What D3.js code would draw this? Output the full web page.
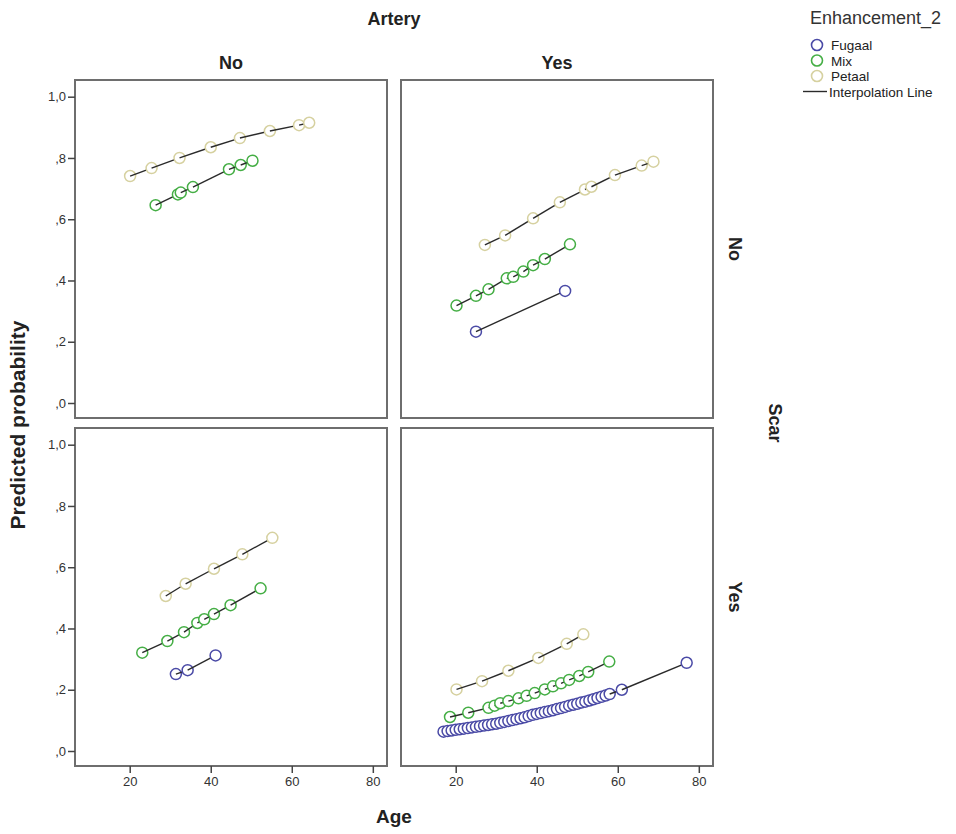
<!DOCTYPE html>
<html>
<head>
<meta charset="utf-8">
<script src="https://cdn.jsdelivr.net/npm/d3@7"></script>
<style>
  html, body { margin: 0; padding: 0; background: #fff; }
  svg { display: block; font-family: "Liberation Sans", Arial, sans-serif; }
</style>
</head>
<body>
<svg id="chart" width="956" height="834"></svg>
<script>
// ---------------- data ----------------
const arteryLevels = ["No", "Yes"];
const scarLevels = ["No", "Yes"];
const groups = ["Fugaal", "Mix", "Petaal"];
const groupColors = ["#4a4aa6", "#45ae45", "#d6d1a0"];
const ageTicks = [20, 40, 60, 80];
const probTicks = [0, 0.2, 0.4, 0.6, 0.8, 1.0];
const probTickLabels = [",0", ",2", ",4", ",6", ",8", "1,0"];

// Artery = No, Scar = No
const aNo_sNo_Mix_age = [26.4, 31.9, 32.6, 35.6, 44.5, 47.4, 50.3];
const aNo_sNo_Mix_p = [0.646, 0.681, 0.687, 0.705, 0.763, 0.777, 0.791];
const aNo_sNo_Petaal_age = [20.1, 25.4, 32.3, 40.0, 47.2, 54.6, 61.8, 64.3];
const aNo_sNo_Petaal_p = [0.741, 0.767, 0.800, 0.835, 0.865, 0.888, 0.907, 0.915];

// Artery = Yes, Scar = No
const aYes_sNo_Fugaal_age = [25.0, 47.0];
const aYes_sNo_Fugaal_p = [0.233, 0.366];
const aYes_sNo_Mix_age = [20.2, 25.0, 28.1, 32.6, 34.2, 36.7, 39.1, 42.0, 48.2];
const aYes_sNo_Mix_p = [0.318, 0.350, 0.371, 0.407, 0.412, 0.429, 0.450, 0.470, 0.518];
const aYes_sNo_Petaal_age = [27.2, 32.2, 39.1, 45.7, 51.9, 53.5, 59.3, 65.9, 68.8];
const aYes_sNo_Petaal_p = [0.516, 0.547, 0.603, 0.655, 0.697, 0.706, 0.744, 0.775, 0.788];

// Artery = No, Scar = Yes
const aNo_sYes_Fugaal_age = [31.4, 34.3, 41.2];
const aNo_sYes_Fugaal_p = [0.251, 0.264, 0.312];
const aNo_sYes_Mix_age = [23.1, 29.3, 33.4, 36.7, 38.4, 40.8, 44.9, 52.3];
const aNo_sYes_Mix_p = [0.321, 0.359, 0.388, 0.418, 0.430, 0.447, 0.476, 0.531];
const aNo_sYes_Petaal_age = [28.9, 33.8, 40.8, 47.8, 55.2];
const aNo_sYes_Petaal_p = [0.506, 0.546, 0.595, 0.642, 0.696];

// Artery = Yes, Scar = Yes
const aYes_sYes_Fugaal_age = [17, 18, 19, 20, 21, 22, 23, 24, 25, 26, 27, 28, 29, 30, 31, 32, 33, 34, 35, 36, 37, 38, 39, 40, 41, 42, 43, 44, 45, 46, 47, 48, 49, 50, 51, 52, 53, 54, 55, 56, 57, 58, 61, 77];
const aYes_sYes_Fugaal_p = [0.063, 0.065, 0.067, 0.069, 0.071, 0.073, 0.075, 0.077, 0.079, 0.081, 0.083, 0.085, 0.087, 0.089, 0.092, 0.095, 0.098, 0.101, 0.104, 0.107, 0.110, 0.114, 0.118, 0.121, 0.124, 0.127, 0.130, 0.133, 0.137, 0.140, 0.144, 0.148, 0.151, 0.154, 0.158, 0.161, 0.165, 0.169, 0.173, 0.177, 0.181, 0.186, 0.200, 0.288];
const aYes_sYes_Mix_age = [18.6, 23.1, 28.1, 29.6, 31.0, 33.0, 35.5, 37.5, 39.5, 42.0, 44.0, 46.0, 48.0, 50.5, 52.7, 57.9];
const aYes_sYes_Mix_p = [0.111, 0.125, 0.141, 0.148, 0.156, 0.163, 0.172, 0.180, 0.189, 0.201, 0.211, 0.221, 0.232, 0.245, 0.258, 0.292];
const aYes_sYes_Petaal_age = [20.2, 26.5, 33.0, 40.4, 47.4, 51.5];
const aYes_sYes_Petaal_p = [0.201, 0.228, 0.262, 0.304, 0.350, 0.381];

const seriesList = [
  { artery: "No", scar: "No", group: "Mix", ages: aNo_sNo_Mix_age, p: aNo_sNo_Mix_p },
  { artery: "No", scar: "No", group: "Petaal", ages: aNo_sNo_Petaal_age, p: aNo_sNo_Petaal_p },
  { artery: "Yes", scar: "No", group: "Fugaal", ages: aYes_sNo_Fugaal_age, p: aYes_sNo_Fugaal_p },
  { artery: "Yes", scar: "No", group: "Mix", ages: aYes_sNo_Mix_age, p: aYes_sNo_Mix_p },
  { artery: "Yes", scar: "No", group: "Petaal", ages: aYes_sNo_Petaal_age, p: aYes_sNo_Petaal_p },
  { artery: "No", scar: "Yes", group: "Fugaal", ages: aNo_sYes_Fugaal_age, p: aNo_sYes_Fugaal_p },
  { artery: "No", scar: "Yes", group: "Mix", ages: aNo_sYes_Mix_age, p: aNo_sYes_Mix_p },
  { artery: "No", scar: "Yes", group: "Petaal", ages: aNo_sYes_Petaal_age, p: aNo_sYes_Petaal_p },
  { artery: "Yes", scar: "Yes", group: "Fugaal", ages: aYes_sYes_Fugaal_age, p: aYes_sYes_Fugaal_p },
  { artery: "Yes", scar: "Yes", group: "Mix", ages: aYes_sYes_Mix_age, p: aYes_sYes_Mix_p },
  { artery: "Yes", scar: "Yes", group: "Petaal", ages: aYes_sYes_Petaal_age, p: aYes_sYes_Petaal_p }
];

// ---------------- layout ----------------
const svg = d3.select("#chart");
const panelX = { No: 75, Yes: 401 };
const panelY = { No: 80, Yes: 428 };
const PW = 312, PH = 338;

const color = d3.scaleOrdinal().domain(groups).range(groupColors);
const x = d3.scaleLinear().domain([6.5, 83.5]).range([0, PW]);
const y = d3.scaleLinear().domain([0, 1]).range([323, 16.7]);

const textColor = "#222";
const tickColor = "#444";
const R = 5.5;

// titles
svg.append("text").attr("x", 394).attr("y", 25).attr("text-anchor", "middle")
  .attr("font-weight", "bold").attr("font-size", 18).attr("fill", textColor).text("Artery");
arteryLevels.forEach(a => {
  svg.append("text").attr("x", panelX[a] + PW / 2).attr("y", 69).attr("text-anchor", "middle")
    .attr("font-weight", "bold").attr("font-size", 18).attr("fill", textColor).text(a);
});
scarLevels.forEach(s => {
  const cy = panelY[s] + PH / 2;
  svg.append("text").attr("transform", `translate(729,${cy}) rotate(90)`).attr("text-anchor", "middle")
    .attr("font-weight", "bold").attr("font-size", 18).attr("fill", textColor).text(s);
});
svg.append("text").attr("transform", `translate(769,423) rotate(90)`).attr("text-anchor", "middle")
  .attr("font-weight", "bold").attr("font-size", 18).attr("fill", textColor).text("Scar");
svg.append("text").attr("transform", `translate(25,425) rotate(-90)`).attr("text-anchor", "middle")
  .attr("font-weight", "bold").attr("font-size", 21).attr("fill", textColor).text("Predicted probability");
svg.append("text").attr("x", 394).attr("y", 823).attr("text-anchor", "middle")
  .attr("font-weight", "bold").attr("font-size", 19).attr("fill", textColor).text("Age");

// panels
arteryLevels.forEach(a => {
  scarLevels.forEach(s => {
    const g = svg.append("g").attr("transform", `translate(${panelX[a]},${panelY[s]})`);
    g.append("rect").attr("x", 0).attr("y", 0).attr("width", PW).attr("height", PH)
      .attr("fill", "#fff").attr("stroke", "#6e6e6e").attr("stroke-width", 2);

    if (a === "No") {
      const ya = g.append("g").call(d3.axisLeft(y).tickValues(probTicks)
        .tickFormat((d, i) => probTickLabels[i]).tickSize(7).tickPadding(2));
      ya.select(".domain").remove();
      ya.selectAll("line").attr("stroke", tickColor).attr("stroke-width", 1.5);
      ya.selectAll("text").attr("font-size", 13).attr("fill", "#333")
        .attr("font-family", "'Liberation Sans', Arial, sans-serif");
    }
    if (s === "Yes") {
      const xa = g.append("g").attr("transform", `translate(0,${PH})`)
        .call(d3.axisBottom(x).tickValues(ageTicks).tickSize(7).tickPadding(4));
      xa.select(".domain").remove();
      xa.selectAll("line").attr("stroke", tickColor).attr("stroke-width", 1.5);
      xa.selectAll("text").attr("font-size", 13).attr("fill", "#333")
        .attr("font-family", "'Liberation Sans', Arial, sans-serif");
    }

    // markers and interpolation segments, interleaved (segment starts at a marker's centre
    // and runs under the next marker)
    const panelSeries = seriesList.filter(d => d.artery === a && d.scar === s);
    panelSeries.forEach(ser => {
      const pts = ser.ages.map((ag, i) => [ag, ser.p[i]]);
      const sg = g.append("g");
      pts.forEach((d, i) => {
        sg.append("circle")
          .attr("cx", x(d[0])).attr("cy", y(d[1])).attr("r", R)
          .attr("fill", "#fff").attr("stroke", color(ser.group)).attr("stroke-width", 1.5);
        if (i < pts.length - 1) {
          const n = pts[i + 1];
          sg.append("line")
            .attr("x1", x(d[0])).attr("y1", y(d[1])).attr("x2", x(n[0])).attr("y2", y(n[1]))
            .attr("stroke", "#2a2a2a").attr("stroke-width", 1.4);
        }
      });
    });
  });
});

// legend
const lg = svg.append("g");
lg.append("text").attr("x", 810).attr("y", 24).attr("font-size", 18).attr("fill", "#333").text("Enhancement_2");
groups.forEach((gname, i) => {
  const cy = 45 + i * 15.5;
  lg.append("circle").attr("cx", 817).attr("cy", cy).attr("r", 5.5)
    .attr("fill", "#fff").attr("stroke", color(gname)).attr("stroke-width", 1.6);
  lg.append("text").attr("x", 831).attr("y", cy + 5).attr("font-size", 13.5).attr("fill", "#222").text(gname);
});
lg.append("line").attr("x1", 803).attr("x2", 827).attr("y1", 91.5).attr("y2", 91.5)
  .attr("stroke", "#2a2a2a").attr("stroke-width", 1.4);
lg.append("text").attr("x", 829).attr("y", 96.5).attr("font-size", 13.5).attr("fill", "#222").text("Interpolation Line");
</script>
</body>
</html>
